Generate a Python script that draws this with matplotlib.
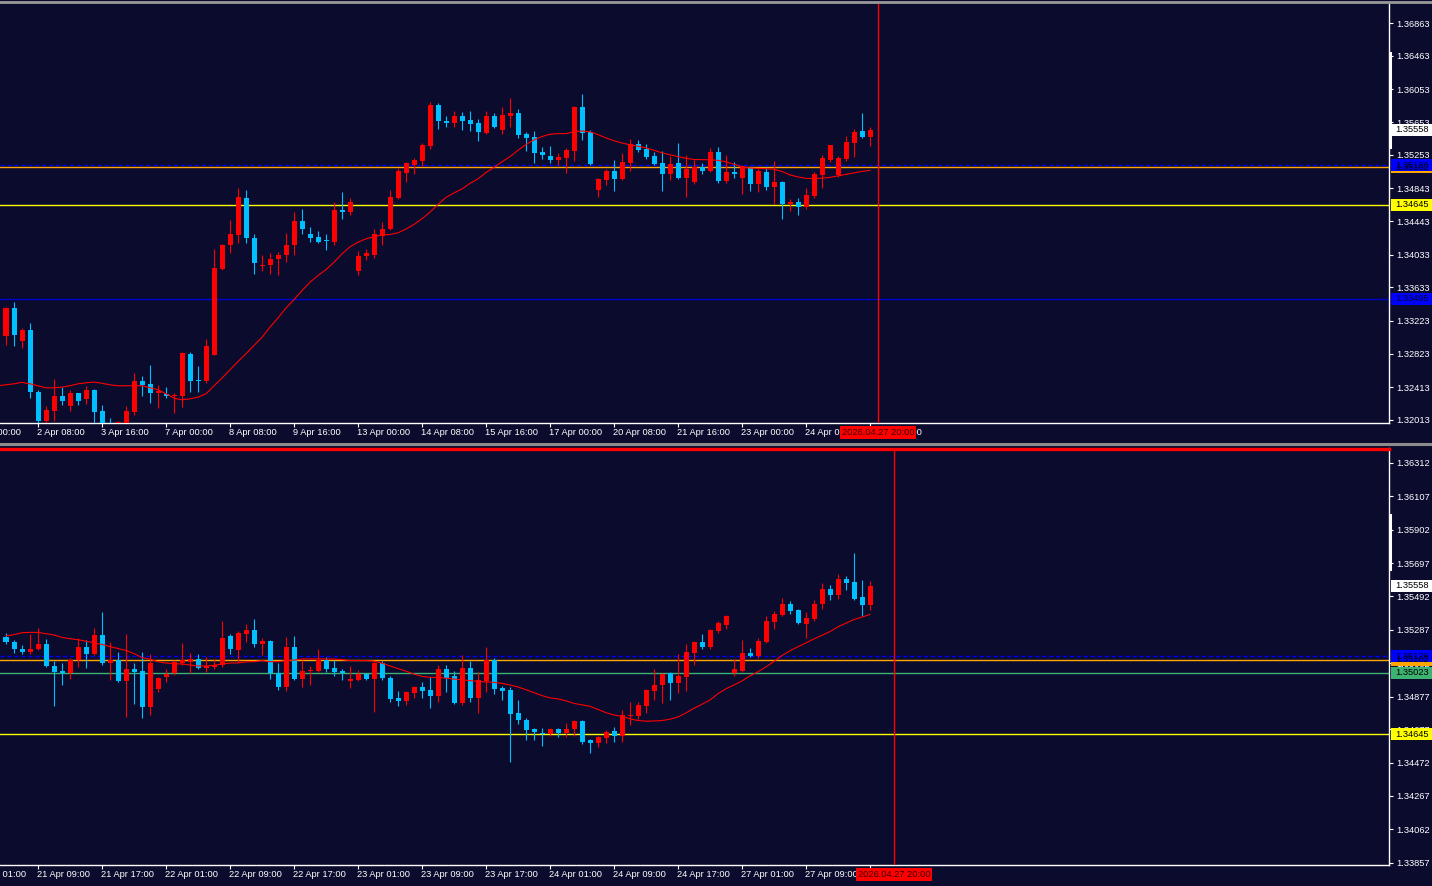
import numpy as np
import matplotlib.pyplot as plt
from matplotlib.lines import Line2D
from matplotlib.patches import Rectangle

plt.rcParams['font.family'] = ['Liberation Sans', 'DejaVu Sans']

BG = '#0b0b2e'
UP = '#ff0000'
DN = '#00bfff'
W, H = 1432, 886
FS = 6.7

# ---------------- H4 window (top), bars -1 .. 108 ----------------
h4_start = -1
h4_open = [1.32880, 1.33042, 1.33381, 1.32972, 1.33115, 1.32356, 1.32004, 1.32127, 1.32307, 1.32188,
           1.32341, 1.32267, 1.32381, 1.32124, 1.31915, 1.31842, 1.31976, 1.32115, 1.32491, 1.32454,
           1.32336, 1.32328, 1.32307, 1.32311, 1.32822, 1.32503, 1.32491, 1.32810, 1.33862, 1.34147,
           1.34270, 1.34720, 1.34242, 1.33891, 1.33903, 1.33977, 1.34025, 1.34147, 1.34438, 1.34291,
           1.34254, 1.34212, 1.34193, 1.34573, 1.34548, 1.33838, 1.34010, 1.34034, 1.34258, 1.34340,
           1.34720, 1.35026, 1.35124, 1.35176, 1.35357, 1.35859, 1.35663, 1.35642, 1.35724, 1.35675,
           1.35638, 1.35520, 1.35724, 1.35553, 1.35724, 1.35761, 1.35504, 1.35467, 1.35283, 1.35234,
           1.35185, 1.35210, 1.35295, 1.35834, 1.35528, 1.34818, 1.34940, 1.35050, 1.34953, 1.35148,
           1.35381, 1.35320, 1.35234, 1.35148, 1.35014, 1.35148, 1.34965, 1.34916, 1.35099, 1.35050,
           1.35283, 1.34928, 1.35038, 1.34965, 1.35087, 1.34891, 1.35038, 1.34855, 1.34916, 1.34646,
           1.34671, 1.34610, 1.34745, 1.35001, 1.35185, 1.35001, 1.35197, 1.35393, 1.35540, 1.35467]
h4_high = [1.33054, 1.33397, 1.33458, 1.33136, 1.33201, 1.32381, 1.32185, 1.32515, 1.32414, 1.32381,
           1.32345, 1.32430, 1.32393, 1.32197, 1.32038, 1.31995, 1.32185, 1.32586, 1.32552, 1.32687,
           1.32442, 1.32414, 1.32341, 1.32843, 1.32843, 1.32675, 1.33005, 1.34107, 1.34165, 1.34451,
           1.34842, 1.34818, 1.34279, 1.34034, 1.34058, 1.34071, 1.34303, 1.34548, 1.34585, 1.34365,
           1.34316, 1.34279, 1.34671, 1.34793, 1.34720, 1.34083, 1.34099, 1.34340, 1.34426, 1.34818,
           1.35087, 1.35164, 1.35210, 1.35397, 1.35896, 1.35883, 1.35724, 1.35785, 1.35773, 1.35785,
           1.35687, 1.35785, 1.35761, 1.35834, 1.35944, 1.35810, 1.35528, 1.35540, 1.35344, 1.35357,
           1.35271, 1.35332, 1.35847, 1.35994, 1.35553, 1.34965, 1.35075, 1.35185, 1.35271, 1.35442,
           1.35430, 1.35381, 1.35283, 1.35295, 1.35234, 1.35393, 1.35246, 1.35185, 1.35148, 1.35332,
           1.35344, 1.35246, 1.35160, 1.35124, 1.35099, 1.35075, 1.35099, 1.35173, 1.34928, 1.34708,
           1.34720, 1.34842, 1.35038, 1.35246, 1.35375, 1.35234, 1.35479, 1.35565, 1.35761, 1.35589]
h4_low = [1.32871, 1.32923, 1.32911, 1.32886, 1.32286, 1.31964, 1.31973, 1.32004, 1.32197, 1.32124,
          1.32197, 1.32209, 1.31973, 1.31891, 1.31793, 1.31768, 1.31952, 1.32075, 1.32307, 1.32225,
          1.32164, 1.32286, 1.32103, 1.32176, 1.32348, 1.32348, 1.32463, 1.32805, 1.33850, 1.34050,
          1.34181, 1.34181, 1.33801, 1.33838, 1.33801, 1.33789, 1.33940, 1.34025, 1.34283, 1.34193,
          1.34181, 1.34095, 1.34156, 1.34463, 1.34512, 1.33789, 1.33973, 1.33997, 1.34147, 1.34328,
          1.34715, 1.34916, 1.35014, 1.35116, 1.35320, 1.35565, 1.35593, 1.35593, 1.35553, 1.35540,
          1.35418, 1.35504, 1.35577, 1.35504, 1.35589, 1.35455, 1.35295, 1.35148, 1.35197, 1.35148,
          1.35124, 1.35026, 1.35173, 1.35430, 1.35124, 1.34732, 1.34879, 1.34806, 1.34948, 1.35050,
          1.35283, 1.35197, 1.35124, 1.34806, 1.34940, 1.34953, 1.34732, 1.34891, 1.35014, 1.35044,
          1.34904, 1.34904, 1.34965, 1.34769, 1.34806, 1.34794, 1.34818, 1.34646, 1.34463, 1.34561,
          1.34512, 1.34585, 1.34720, 1.34842, 1.35160, 1.34977, 1.35173, 1.35222, 1.35455, 1.35357]
h4_close = [1.33054, 1.33381, 1.33054, 1.33115, 1.32348, 1.32004, 1.32136, 1.32307, 1.32249, 1.32341,
            1.32249, 1.32381, 1.32115, 1.31940, 1.31866, 1.31989, 1.32124, 1.32491, 1.32442, 1.32336,
            1.32369, 1.32307, 1.32320, 1.32831, 1.32494, 1.32491, 1.32920, 1.33871, 1.34156, 1.34279,
            1.34732, 1.34234, 1.33928, 1.33911, 1.33985, 1.34034, 1.34156, 1.34438, 1.34344, 1.34234,
            1.34193, 1.34199, 1.34573, 1.34552, 1.34671, 1.34022, 1.34050, 1.34279, 1.34352, 1.34732,
            1.35050, 1.35148, 1.35185, 1.35369, 1.35859, 1.35663, 1.35642, 1.35724, 1.35663, 1.35626,
            1.35528, 1.35724, 1.35589, 1.35736, 1.35761, 1.35491, 1.35455, 1.35271, 1.35246, 1.35185,
            1.35222, 1.35308, 1.35834, 1.35516, 1.35136, 1.34953, 1.35050, 1.34953, 1.35160, 1.35381,
            1.35308, 1.35222, 1.35136, 1.35014, 1.35136, 1.34965, 1.35075, 1.35099, 1.35050, 1.35283,
            1.34928, 1.35038, 1.35014, 1.35112, 1.34891, 1.35050, 1.34855, 1.34916, 1.34646, 1.34671,
            1.34610, 1.34757, 1.35014, 1.35210, 1.35369, 1.35210, 1.35406, 1.35528, 1.35467, 1.35558]
h4_ma = [1.32430, 1.32442, 1.32454, 1.32472, 1.32454, 1.32430, 1.32405, 1.32405, 1.32414, 1.32430,
         1.32454, 1.32466, 1.32475, 1.32460, 1.32442, 1.32430, 1.32430, 1.32430, 1.32430, 1.32405,
         1.32381, 1.32332, 1.32279, 1.32258, 1.32270, 1.32291, 1.32332, 1.32430, 1.32524, 1.32626,
         1.32727, 1.32822, 1.32923, 1.33021, 1.33148, 1.33258, 1.33381, 1.33483, 1.33593, 1.33695,
         1.33777, 1.33850, 1.33940, 1.34042, 1.34128, 1.34185, 1.34226, 1.34251, 1.34275, 1.34279,
         1.34300, 1.34346, 1.34401, 1.34471, 1.34552, 1.34646, 1.34732, 1.34787, 1.34836, 1.34904,
         1.34959, 1.35038, 1.35099, 1.35167, 1.35231, 1.35308, 1.35378, 1.35436, 1.35476, 1.35504,
         1.35512, 1.35512, 1.35534, 1.35544, 1.35534, 1.35500, 1.35460, 1.35424, 1.35397, 1.35375,
         1.35357, 1.35338, 1.35308, 1.35277, 1.35253, 1.35231, 1.35210, 1.35195, 1.35194, 1.35191,
         1.35185, 1.35167, 1.35136, 1.35106, 1.35091, 1.35087, 1.35083, 1.35077, 1.35050, 1.35007,
         1.34983, 1.34965, 1.34962, 1.34967, 1.34977, 1.34995, 1.35014, 1.35032, 1.35050, 1.35063]
h4_ticks = [1.36863, 1.36463, 1.36053, 1.35653, 1.35253, 1.34843, 1.34443,
            1.34033, 1.33633, 1.33223, 1.32823, 1.32413, 1.32013]
h4_time_pos = [-4, 4, 12, 20, 28, 36, 44, 52, 60, 68, 76, 84, 92, 100, 108]
h4_time_lab = ['1 Apr 00:00', '2 Apr 08:00', '3 Apr 16:00', '7 Apr 00:00', '8 Apr 08:00',
               '9 Apr 16:00', '13 Apr 00:00', '14 Apr 08:00', '15 Apr 16:00', '17 Apr 00:00',
               '20 Apr 08:00', '21 Apr 16:00', '23 Apr 00:00', '24 Apr 08:00', '27 Apr 16:00']

# ---------------- H1 window (bottom), bars 0 .. 108 ----------------
h1_start = 0
h1_open = [1.35245, 1.35214, 1.35172, 1.35149, 1.35172, 1.35197, 1.35067, 1.35036, 1.35024, 1.35104,
           1.35184, 1.35141, 1.35253, 1.35085, 1.35104, 1.34975, 1.35049, 1.35036, 1.34814, 1.34925,
           1.34999, 1.35024, 1.35085, 1.35092, 1.35110, 1.35055, 1.35061, 1.35073, 1.35247, 1.35160,
           1.35259, 1.35284, 1.35197, 1.35216, 1.35024, 1.34938, 1.35184, 1.34987, 1.35036, 1.35036,
           1.35104, 1.35055, 1.35036, 1.34975, 1.34981, 1.35018, 1.34987, 1.35085, 1.34993, 1.34870,
           1.34851, 1.34901, 1.34938, 1.34919, 1.34882, 1.35049, 1.35005, 1.34839, 1.35055, 1.34870,
           1.34975, 1.35104, 1.34932, 1.34919, 1.34777, 1.34734, 1.34679, 1.34653, 1.34647, 1.34679,
           1.34653, 1.34679, 1.34727, 1.34608, 1.34591, 1.34623, 1.34666, 1.34635, 1.34758, 1.34758,
           1.34820, 1.34913, 1.34950, 1.35024, 1.34962, 1.34999, 1.35147, 1.35210, 1.35184, 1.35278,
           1.35315, 1.35024, 1.35036, 1.35147, 1.35129, 1.35210, 1.35333, 1.35376, 1.35445, 1.35407,
           1.35321, 1.35352, 1.35445, 1.35537, 1.35500, 1.35599, 1.35580, 1.35488, 1.35438]
h1_high = [1.35265, 1.35223, 1.35191, 1.35259, 1.35296, 1.35228, 1.35098, 1.35085, 1.35116, 1.35234,
           1.35222, 1.35296, 1.35395, 1.35210, 1.35153, 1.35259, 1.35085, 1.35153, 1.35141, 1.34999,
           1.35049, 1.35104, 1.35203, 1.35147, 1.35141, 1.35122, 1.35110, 1.35339, 1.35259, 1.35277,
           1.35321, 1.35352, 1.35234, 1.35222, 1.35085, 1.35240, 1.35247, 1.35104, 1.35067, 1.35166,
           1.35122, 1.35104, 1.35049, 1.35067, 1.35042, 1.35024, 1.35098, 1.35098, 1.35005, 1.34913,
           1.34913, 1.34944, 1.34968, 1.34999, 1.35073, 1.35073, 1.35036, 1.35135, 1.35098, 1.35030,
           1.35184, 1.35116, 1.34944, 1.34938, 1.34857, 1.34746, 1.34685, 1.34685, 1.34685, 1.34682,
           1.34715, 1.34734, 1.34734, 1.34617, 1.34632, 1.34674, 1.34692, 1.34795, 1.34845, 1.34845,
           1.34925, 1.35049, 1.35022, 1.35030, 1.35141, 1.35197, 1.35216, 1.35259, 1.35290, 1.35339,
           1.35376, 1.35110, 1.35222, 1.35178, 1.35234, 1.35370, 1.35401, 1.35482, 1.35463, 1.35414,
           1.35395, 1.35469, 1.35574, 1.35562, 1.35630, 1.35618, 1.35760, 1.35593, 1.35587]
h1_low = [1.35199, 1.35147, 1.35141, 1.35141, 1.35160, 1.35061, 1.34820, 1.34950, 1.34987, 1.35061,
          1.35055, 1.35131, 1.35073, 1.34981, 1.34968, 1.34752, 1.34833, 1.34746, 1.34765, 1.34907,
          1.34968, 1.35012, 1.35073, 1.35024, 1.35049, 1.35030, 1.35049, 1.35061, 1.35141, 1.35092,
          1.35210, 1.35184, 1.35135, 1.34987, 1.34919, 1.34913, 1.34981, 1.34938, 1.34950, 1.35030,
          1.35030, 1.35005, 1.34981, 1.34932, 1.34975, 1.34981, 1.34783, 1.34981, 1.34845, 1.34820,
          1.34826, 1.34870, 1.34870, 1.34808, 1.34845, 1.34907, 1.34833, 1.34826, 1.34845, 1.34777,
          1.34907, 1.34894, 1.34857, 1.34476, 1.34709, 1.34610, 1.34610, 1.34572, 1.34635, 1.34629,
          1.34629, 1.34635, 1.34585, 1.34529, 1.34566, 1.34591, 1.34597, 1.34597, 1.34703, 1.34740,
          1.34777, 1.34857, 1.34839, 1.34857, 1.34901, 1.34913, 1.35073, 1.35166, 1.35172, 1.35265,
          1.35290, 1.35005, 1.35030, 1.35122, 1.35116, 1.35205, 1.35290, 1.35373, 1.35383, 1.35321,
          1.35234, 1.35339, 1.35414, 1.35469, 1.35475, 1.35531, 1.35470, 1.35370, 1.35407]
h1_close = [1.35214, 1.35172, 1.35149, 1.35172, 1.35197, 1.35067, 1.35030, 1.35024, 1.35104, 1.35184,
            1.35141, 1.35253, 1.35085, 1.35104, 1.34975, 1.35049, 1.35030, 1.34814, 1.35085, 1.34993,
            1.35018, 1.35092, 1.35104, 1.35110, 1.35055, 1.35067, 1.35073, 1.35234, 1.35166, 1.35265,
            1.35284, 1.35197, 1.35216, 1.35024, 1.34938, 1.35184, 1.34987, 1.35036, 1.35042, 1.35104,
            1.35049, 1.35030, 1.35024, 1.34987, 1.35018, 1.34987, 1.35085, 1.34993, 1.34864, 1.34851,
            1.34907, 1.34938, 1.34913, 1.34882, 1.35049, 1.34993, 1.34839, 1.35055, 1.34870, 1.34981,
            1.35104, 1.34925, 1.34913, 1.34771, 1.34734, 1.34672, 1.34660, 1.34647, 1.34679, 1.34653,
            1.34679, 1.34727, 1.34597, 1.34593, 1.34629, 1.34661, 1.34636, 1.34765, 1.34765, 1.34826,
            1.34919, 1.34950, 1.35018, 1.34962, 1.35005, 1.35153, 1.35210, 1.35184, 1.35284, 1.35327,
            1.35370, 1.35049, 1.35147, 1.35127, 1.35216, 1.35339, 1.35383, 1.35445, 1.35401, 1.35327,
            1.35358, 1.35445, 1.35537, 1.35500, 1.35599, 1.35574, 1.35475, 1.35438, 1.35558]
h1_ma = [1.35250, 1.35257, 1.35269, 1.35271, 1.35271, 1.35263, 1.35255, 1.35240, 1.35232, 1.35226,
         1.35217, 1.35207, 1.35197, 1.35184, 1.35172, 1.35160, 1.35141, 1.35116, 1.35106, 1.35091,
         1.35083, 1.35079, 1.35077, 1.35071, 1.35065, 1.35065, 1.35069, 1.35077, 1.35083, 1.35083,
         1.35090, 1.35091, 1.35098, 1.35091, 1.35091, 1.35098, 1.35101, 1.35108, 1.35108, 1.35108,
         1.35108, 1.35107, 1.35104, 1.35098, 1.35098, 1.35098, 1.35095, 1.35082, 1.35065, 1.35049,
         1.35033, 1.35015, 1.35001, 1.34995, 1.34995, 1.34990, 1.34984, 1.34980, 1.34975, 1.34970,
         1.34967, 1.34964, 1.34958, 1.34948, 1.34936, 1.34919, 1.34901, 1.34883, 1.34869, 1.34863,
         1.34851, 1.34835, 1.34826, 1.34817, 1.34798, 1.34778, 1.34764, 1.34755, 1.34740, 1.34730,
         1.34726, 1.34727, 1.34730, 1.34738, 1.34752, 1.34777, 1.34805, 1.34830, 1.34856, 1.34895,
         1.34925, 1.34948, 1.34973, 1.35004, 1.35030, 1.35059, 1.35093, 1.35129, 1.35158, 1.35183,
         1.35207, 1.35231, 1.35253, 1.35276, 1.35305, 1.35328, 1.35350, 1.35365, 1.35381]
h1_ticks = [1.36312, 1.36107, 1.35902, 1.35697, 1.35492, 1.35287, 1.35082,
            1.34877, 1.34677, 1.34472, 1.34267, 1.34062, 1.33857]
h1_time_pos = [-4, 4, 12, 20, 28, 36, 44, 52, 60, 68, 76, 84, 92, 100, 108]
h1_time_lab = ['21 Apr 01:00', '21 Apr 09:00', '21 Apr 17:00', '22 Apr 01:00', '22 Apr 09:00',
               '22 Apr 17:00', '23 Apr 01:00', '23 Apr 09:00', '23 Apr 17:00', '24 Apr 01:00',
               '24 Apr 09:00', '24 Apr 17:00', '27 Apr 01:00', '27 Apr 09:00', '27 Apr 17:00']

last_price = 1.35558
level_blue = 1.35126
level_orange = 1.35102
level_green = 1.35023
level_yellow = 1.34645
level_navy = 1.33495
cursor_label = '2026.04.27 20:00'

fig = plt.figure(figsize=(W / 100, H / 100), dpi=100, facecolor=BG)


def px_axes(left, top, right, bottom):
    return fig.add_axes([left / W, 1 - bottom / H, (right - left) / W, (bottom - top) / H])


def draw_candles(ax, start, o, h, l, c, min_body):
    o, h, l, c = map(np.asarray, (o, h, l, c))
    x = np.arange(start, start + len(o))
    col = np.where(c > o, UP, DN)
    ax.vlines(x, l, h, colors=col, lw=0.8, zorder=3)
    lo = np.minimum(o, c)
    body = np.maximum(np.abs(c - o), min_body)
    ax.bar(x, body, bottom=lo, width=0.625, color=col, lw=0, zorder=4)


def style_axes(ax, ylim, ticks, tpos, tlab, cursor_x):
    ax.set_facecolor(BG)
    for s in ('left', 'top'):
        ax.spines[s].set_visible(False)
    for s in ('right', 'bottom'):
        ax.spines[s].set_color('white')
        ax.spines[s].set_linewidth(1.0)
    ax.yaxis.tick_right()
    ax.set_yticks(ticks)
    ax.set_yticklabels([f'{t:.5f}' for t in ticks])
    ax.tick_params(axis='y', colors='white', length=3, width=0.8, labelsize=FS, pad=2)
    ax.set_xticks(tpos)
    ax.tick_params(axis='x', colors='white', length=3, width=0.8, labelbottom=False)
    # limits last: set_xticks would widen the view to the off-screen first tick
    ax.set_xlim(-0.75, 172.875)
    ax.set_ylim(*ylim)
    for p, t in zip(tpos, tlab):
        ax.annotate(t, xy=(p - 0.12, 0), xycoords=('data', 'axes fraction'),
                    xytext=(0, -6.6), textcoords='offset points', ha='left', va='center',
                    color='white', fontsize=FS, annotation_clip=False)
    ax.axvline(cursor_x, color=UP, lw=1.0, zorder=6)
    ax.annotate(cursor_label, xy=(cursor_x, 0), xycoords=('data', 'axes fraction'),
                xytext=(0, -6.6), textcoords='offset points', ha='center', va='center',
                color='#3a0000', fontsize=FS, annotation_clip=False, zorder=10,
                bbox=dict(boxstyle='square,pad=0.2', fc=UP, ec='none'))


def price_box(ax, price, fc, tc='black'):
    y = ax.transData.transform((0, price))[1]
    fig.add_artist(Rectangle((1391 / W, (y - 6) / H), (W - 1391) / W, 12 / H,
                             transform=fig.transFigure, fc=fc, ec='none', zorder=5))
    fig.text(1395 / W, y / H, f'{price:.5f}', color=tc, fontsize=FS,
             ha='left', va='center', zorder=6)


# ---- top window ----
ax1 = px_axes(0, 4, 1389, 423)
style_axes(ax1, (1.31975, 1.37096), h4_ticks, h4_time_pos, h4_time_lab, 109)
ax1.axhline(level_navy, color='#0000c8', lw=1.0, zorder=2)
ax1.axhline(level_yellow, color='#ffff00', lw=1.0, zorder=2)
ax1.axhline(level_orange, color='#ffa500', lw=1.0, zorder=2)
ax1.axhline(level_blue, color='#0000ff', lw=1.0, ls=(0, (3, 2)), zorder=2)
draw_candles(ax1, h4_start, h4_open, h4_high, h4_low, h4_close, 0.00012)
ax1.plot(np.arange(h4_start, h4_start + len(h4_ma)), h4_ma, color=UP, lw=0.8, zorder=5)
ax1.set_xlim(-0.75, 172.875)

# ---- bottom window ----
ax2 = px_axes(0, 448, 1389, 865)
style_axes(ax2, (1.33843, 1.36403), h1_ticks, h1_time_pos, h1_time_lab, 111)
ax2.axhline(level_yellow, color='#ffff00', lw=1.0, zorder=2)
ax2.axhline(level_green, color='#3cb371', lw=1.0, zorder=2)
ax2.axhline(level_orange, color='#ffa500', lw=1.0, zorder=2)
ax2.axhline(level_blue, color='#0000ff', lw=1.0, ls=(0, (3, 2)), zorder=2)
draw_candles(ax2, h1_start, h1_open, h1_high, h1_low, h1_close, 0.00007)
ax2.plot(np.arange(h1_start, h1_start + len(h1_ma)), h1_ma, color=UP, lw=0.8, zorder=5)
ax2.set_xlim(-0.75, 172.875)

# ---- price labels on the right scale ----
price_box(ax1, last_price, 'white')
price_box(ax1, level_orange, '#ffa500')
price_box(ax1, level_blue, '#0000ff', '#000030')
price_box(ax1, level_yellow, '#ffff00')
price_box(ax1, level_navy, '#0000ff', '#000030')
price_box(ax2, last_price, 'white')
price_box(ax2, level_orange, '#ffa500')
price_box(ax2, level_blue, '#0000ff', '#000030')
price_box(ax2, level_green, '#3cb371')
price_box(ax2, level_yellow, '#ffff00')

# ---- window frame decorations ----
fig.add_artist(Line2D([0, 1], [1 - 1.5 / H] * 2, color='#9a9a9a', lw=2))
fig.add_artist(Line2D([0, 1], [1 - 443.5 / H] * 2, color='#8c8c8c', lw=2.2))
fig.add_artist(Line2D([0, 1389 / W], [1 - 449 / H] * 2, color=UP, lw=2.4, zorder=7))
fig.add_artist(Line2D([1390 / W] * 2, [1 - 53 / H, 1 - 147 / H], color='white', lw=2.2, zorder=7))
fig.add_artist(Line2D([1390 / W] * 2, [1 - 515 / H, 1 - 569 / H], color='white', lw=2.2, zorder=7))

fig.savefig('out.png', dpi=100, facecolor=BG)
